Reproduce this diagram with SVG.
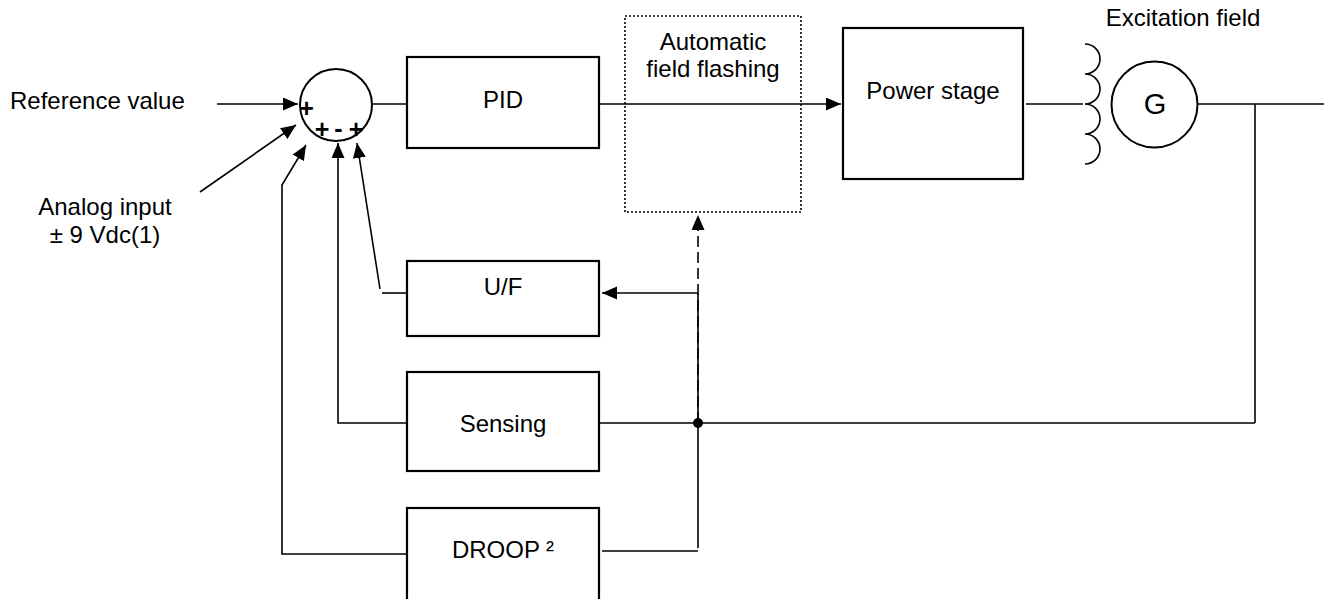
<svg xmlns="http://www.w3.org/2000/svg" width="1328" height="599" viewBox="0 0 1328 599">
<style>
  text { font-family: "Liberation Sans", Arial, sans-serif; font-size: 24px; fill: #000; }
  .mid { text-anchor: middle; }
  .box { fill: #fff; stroke: #000; stroke-width: 2.2; }
  .dot { fill: none; stroke: #000; stroke-width: 1.6; stroke-dasharray: 2 2; }
  .ln { fill: none; stroke: #000; stroke-width: 1.6; }
  .dash { fill: none; stroke: #000; stroke-width: 1.6; stroke-dasharray: 11 5; }
  .sign { font-weight: bold; font-size: 25px; }
</style>
<defs>
  <marker id="ah" markerWidth="16" markerHeight="14" refX="15" refY="6.5" orient="auto" markerUnits="userSpaceOnUse">
    <path d="M0,0 L15,6.5 L0,13 Z" fill="#000"/>
  </marker>
</defs>
<rect width="1328" height="599" fill="#fff"/>

<g id="connectors">
  <line class="ln" x1="217" y1="104" x2="298" y2="104" marker-end="url(#ah)"/>
  <line class="ln" x1="200" y1="192" x2="296" y2="125" marker-end="url(#ah)"/>
  <line class="ln" x1="373" y1="104" x2="407" y2="104"/>
  <line class="ln" x1="599" y1="104" x2="841" y2="104" marker-end="url(#ah)"/>
  <line class="ln" x1="1026" y1="104" x2="1083" y2="104"/>
  <line class="ln" x1="1198" y1="104" x2="1324" y2="104"/>
  <line class="ln" x1="1255" y1="104" x2="1255" y2="423"/>
  <line class="ln" x1="599" y1="423" x2="1255" y2="423"/>
  <polyline class="ln" points="407,423 338,423 338,143" marker-end="url(#ah)"/>
  <line class="ln" x1="407" y1="293" x2="382" y2="293"/>
  <line class="ln" x1="380" y1="289" x2="357" y2="143" marker-end="url(#ah)"/>
  <polyline class="ln" points="407,554 282,554 282,185 306,145" marker-end="url(#ah)"/>
  <line class="ln" x1="698" y1="293" x2="602" y2="293" marker-end="url(#ah)"/>
  <line class="ln" x1="698" y1="293" x2="698" y2="548"/>
  <line class="ln" x1="602" y1="551" x2="698" y2="551"/>
  <line class="dash" x1="698" y1="423" x2="698" y2="215" marker-end="url(#ah)"/>
  <circle cx="698" cy="423" r="5" fill="#000"/>
</g>

<g id="sum">
  <circle cx="336" cy="105" r="36" fill="none" stroke="#000" stroke-width="2"/>
  <text class="sign mid" x="306.5" y="117">+</text>
  <text class="sign mid" x="322" y="138">+</text>
  <text class="sign mid" x="338.5" y="137">-</text>
  <text class="sign mid" x="356" y="138">+</text>
</g>

<g id="reference-label">
  <text x="10" y="109">Reference value</text>
</g>
<g id="analog-label">
  <text class="mid" x="105" y="215">Analog input</text>
  <text class="mid" x="105" y="243">± 9 Vdc(1)</text>
</g>

<g id="pid">
  <rect class="box" x="407" y="57" width="192" height="91"/>
  <text class="mid" x="503" y="108">PID</text>
</g>

<g id="flashing">
  <rect class="dot" x="625" y="16" width="176" height="196"/>
  <text class="mid" x="713" y="50">Automatic</text>
  <text class="mid" x="713" y="77">field flashing</text>
</g>

<g id="power">
  <rect class="box" x="843" y="28" width="180" height="151"/>
  <text class="mid" x="933" y="99">Power stage</text>
</g>

<g id="excitation">
  <text class="mid" x="1183" y="26">Excitation field</text>
  <path class="ln" d="M1085,44 A15,15 0 0 1 1085,74 A15,15 0 0 1 1085,104 A15,15 0 0 1 1085,134 A15,15 0 0 1 1085,164" stroke-width="2"/>
</g>

<g id="generator">
  <circle cx="1154.5" cy="104.5" r="43" fill="none" stroke="#000" stroke-width="2"/>
  <text class="mid" x="1155" y="114" style="font-size:29px">G</text>
</g>

<g id="uf">
  <rect class="box" x="407" y="261" width="192" height="75"/>
  <text class="mid" x="503" y="295">U/F</text>
</g>

<g id="sensing">
  <rect class="box" x="407" y="372" width="192" height="99"/>
  <text class="mid" x="503" y="432">Sensing</text>
</g>

<g id="droop">
  <rect class="box" x="407" y="508" width="192" height="100"/>
  <text class="mid" x="503" y="558">DROOP ²</text>
</g>
</svg>
